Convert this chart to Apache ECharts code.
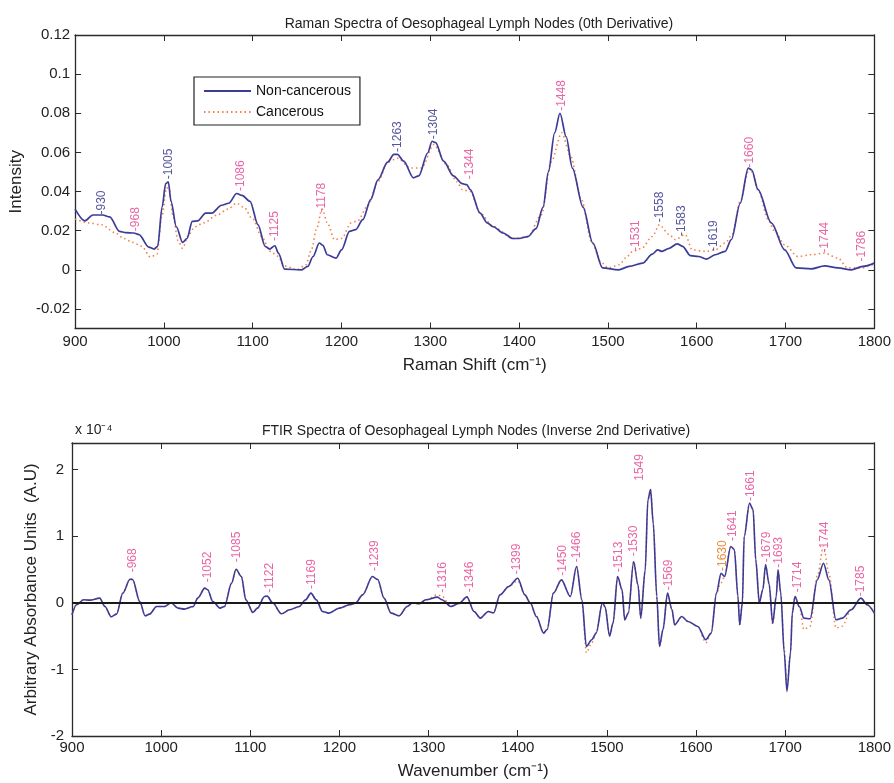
<!DOCTYPE html>
<html>
<head>
<meta charset="utf-8">
<script src="https://cdn.jsdelivr.net/npm/echarts@6/dist/echarts.min.js"></script>
<style>
  html, body { margin: 0; padding: 0; background: #fff; }
  #chart { width: 894px; height: 783px; }
</style>
</head>
<body>
<div id="chart"></div>
<script>
// Raman (0th derivative)
const ramanNonX = [900, 911, 920, 931, 939, 950, 957, 966, 972, 983, 989, 993, 998, 1002, 1005, 1008, 1014, 1021, 1026, 1032, 1038, 1047, 1054, 1065, 1073, 1082, 1088, 1097, 1106, 1114, 1119, 1125, 1129, 1136, 1155, 1162, 1168, 1175, 1179, 1184, 1194, 1200, 1209, 1216, 1224, 1233, 1241, 1252, 1259, 1263, 1270, 1281, 1287, 1297, 1302, 1306, 1315, 1326, 1336, 1341, 1345, 1356, 1364, 1371, 1382, 1393, 1400, 1410, 1419, 1427, 1433, 1440, 1446, 1453, 1460, 1472, 1483, 1494, 1512, 1524, 1539, 1550, 1556, 1561, 1569, 1578, 1584, 1593, 1602, 1611, 1621, 1632, 1639, 1649, 1658, 1662, 1669, 1684, 1699, 1712, 1729, 1744, 1759, 1774, 1787, 1800];
const ramanNonY = [0.031, 0.025, 0.028, 0.028, 0.027, 0.0196, 0.019, 0.0188, 0.018, 0.0116, 0.0106, 0.012, 0.032, 0.044, 0.045, 0.035, 0.022, 0.014, 0.016, 0.0247, 0.025, 0.029, 0.029, 0.033, 0.034, 0.039, 0.038, 0.035, 0.023, 0.012, 0.0106, 0.0123, 0.0085, 0.0003, 0, 0.0017, 0.0068, 0.0137, 0.0125, 0.0077, 0.006, 0.0102, 0.0196, 0.0205, 0.0256, 0.036, 0.046, 0.055, 0.059, 0.059, 0.0555, 0.047, 0.048, 0.0597, 0.0657, 0.065, 0.0555, 0.048, 0.044, 0.0435, 0.041, 0.029, 0.024, 0.022, 0.0188, 0.016, 0.016, 0.017, 0.021, 0.032, 0.05, 0.07, 0.08, 0.068, 0.052, 0.032, 0.0137, 0.001, 0, 0.0017, 0.0034, 0.008, 0.0102, 0.0094, 0.011, 0.0133, 0.012, 0.0072, 0.0068, 0.0055, 0.0077, 0.0094, 0.0154, 0.034, 0.052, 0.051, 0.041, 0.024, 0.0102, 0.001, 0.0005, 0.002, 0.001, 0, 0.0017, 0.0034];
const ramanCanX = [900, 915, 930, 945, 955, 965, 975, 985, 992, 998, 1003, 1006, 1010, 1016, 1021, 1028, 1035, 1045, 1060, 1072, 1082, 1090, 1100, 1110, 1120, 1128, 1136, 1150, 1160, 1166, 1172, 1178, 1185, 1192, 1200, 1211, 1218, 1230, 1241, 1252, 1263, 1278, 1290, 1304, 1318, 1330, 1336, 1345, 1356, 1371, 1393, 1410, 1425, 1436, 1448, 1458, 1470, 1482, 1492, 1500, 1513, 1520, 1528, 1538, 1550, 1558, 1569, 1576, 1587, 1595, 1610, 1621, 1632, 1640, 1649, 1658, 1662, 1670, 1680, 1688, 1699, 1714, 1729, 1744, 1759, 1770, 1785, 1800];
const ramanCanY = [0.026, 0.024, 0.023, 0.019, 0.016, 0.014, 0.012, 0.0065, 0.008, 0.028, 0.042, 0.041, 0.028, 0.015, 0.011, 0.018, 0.022, 0.024, 0.028, 0.031, 0.034, 0.032, 0.026, 0.017, 0.0094, 0.007, 0.002, 0, 0.0026, 0.01, 0.021, 0.031, 0.023, 0.0154, 0.016, 0.024, 0.025, 0.033, 0.045, 0.055, 0.057, 0.052, 0.052, 0.064, 0.054, 0.045, 0.041, 0.04, 0.029, 0.022, 0.016, 0.017, 0.028, 0.055, 0.07, 0.058, 0.036, 0.014, 0.004, 0.001, 0.0026, 0.006, 0.0094, 0.011, 0.017, 0.023, 0.018, 0.0154, 0.018, 0.0102, 0.0094, 0.0102, 0.0137, 0.018, 0.035, 0.05, 0.05, 0.04, 0.026, 0.0196, 0.0128, 0.0068, 0.0077, 0.0085, 0.006, 0.001, 0.001, 0.003];
const ramanBluePeaks = [930, 1005, 1263, 1304, 1558, 1583, 1619];
const ramanBlueAt = [0.028, 0.046, 0.06, 0.0665, 0.024, 0.017, 0.0094];
const ramanPinkPeaks = [968, 1086, 1125, 1178, 1344, 1448, 1531, 1660, 1744, 1786];
const ramanPinkAt = [0.0195, 0.04, 0.0145, 0.029, 0.046, 0.081, 0.0094, 0.052, 0.0085, 0.004];

// FTIR (inverse 2nd derivative, x 10^-4)
const ftirX = [900, 905, 913, 920, 931, 937, 944, 950, 957, 965, 968, 976, 982, 987, 995, 1004, 1011, 1019, 1026, 1036, 1041, 1049, 1052, 1058, 1066, 1071, 1079, 1084, 1090, 1095, 1103, 1108, 1116, 1119, 1125, 1135, 1144, 1155, 1162, 1168, 1174, 1181, 1188, 1200, 1211, 1218, 1226, 1237, 1243, 1250, 1258, 1267, 1276, 1282, 1289, 1297, 1310, 1315, 1325, 1334, 1343, 1351, 1358, 1367, 1373, 1380, 1390, 1400, 1408, 1414, 1421, 1429, 1433, 1440, 1449, 1459, 1466, 1472, 1477, 1483, 1488, 1495, 1498, 1503, 1507, 1512, 1517, 1520, 1524, 1530, 1535, 1538, 1543, 1546, 1549, 1552, 1556, 1559, 1563, 1568, 1573, 1576, 1584, 1591, 1602, 1611, 1617, 1623, 1628, 1632, 1639, 1643, 1647, 1649, 1652, 1654, 1660, 1664, 1667, 1671, 1675, 1678, 1682, 1686, 1690, 1692, 1695, 1699, 1702, 1706, 1708, 1711, 1716, 1721, 1728, 1736, 1743, 1749, 1757, 1764, 1774, 1785, 1792, 1800];
const ftirNon = [-0.18, -0.03, 0.045, 0.04, 0.07, -0.055, -0.21, -0.17, 0.145, 0.355, 0.35, 0.02, -0.195, -0.17, -0.055, -0.055, 0, -0.08, -0.095, -0.055, 0.07, 0.22, 0.2, 0.02, -0.08, -0.055, 0.295, 0.505, 0.395, 0.045, -0.145, -0.08, 0.095, 0.1, 0, -0.165, -0.105, -0.055, 0.045, 0.145, 0.045, -0.13, -0.155, -0.08, -0.03, -0.005, 0.12, 0.395, 0.35, 0.07, -0.155, -0.195, -0.055, 0, -0.015, 0.045, 0.085, 0.045, -0.055, -0.01, 0.09, -0.13, -0.23, -0.13, -0.15, 0.12, 0.245, 0.37, 0.12, 0, -0.205, -0.455, -0.4, 0.145, 0.345, 0.095, 0.545, 0.045, -0.655, -0.555, -0.455, 0, -0.06, -0.5, -0.3, 0.395, 0.2, -0.255, -0.155, 0.62, 0.26, -0.23, 0.495, 1.545, 1.7, 1.2, 0.095, -0.655, -0.4, 0.145, -0.1, -0.33, -0.205, -0.28, -0.355, -0.555, -0.455, 0.145, 0.445, 0.395, 0.845, 0.8, 0.095, -0.33, 0, 0.995, 1.495, 1.4, 0.645, 0, 0.2, 0.57, 0.28, -0.305, 0.1, 0.495, 0.15, -0.755, -1.33, -0.75, -0.155, 0.095, -0.06, -0.23, -0.24, 0.345, 0.595, 0.345, -0.255, -0.23, -0.105, 0.07, -0.03, -0.155];
const ftirCan = [-0.18, -0.03, 0.045, 0.04, 0.07, -0.055, -0.21, -0.17, 0.145, 0.355, 0.35, 0.02, -0.195, -0.17, -0.055, -0.055, 0, -0.08, -0.095, -0.055, 0.07, 0.22, 0.2, 0.02, -0.08, -0.055, 0.295, 0.505, 0.395, 0.045, -0.145, -0.08, 0.095, 0.1, 0, -0.165, -0.105, -0.055, 0.045, 0.145, 0.045, -0.13, -0.155, -0.08, -0.03, -0.005, 0.12, 0.395, 0.35, 0.07, -0.155, -0.195, -0.055, 0, -0.015, 0.045, 0.12, 0.1, -0.055, -0.01, 0.09, -0.13, -0.23, -0.13, -0.15, 0.12, 0.245, 0.33, 0.12, 0, -0.205, -0.455, -0.4, 0.145, 0.345, 0.095, 0.545, 0.045, -0.75, -0.6, -0.455, 0, -0.06, -0.5, -0.3, 0.395, 0.2, -0.255, -0.155, 0.62, 0.26, -0.23, 0.495, 1.545, 1.7, 1.2, 0.095, -0.655, -0.4, 0.145, -0.1, -0.33, -0.205, -0.28, -0.355, -0.6, -0.455, 0.145, 0.3, 0.395, 0.845, 0.8, 0.095, -0.35, 0, 0.995, 1.495, 1.4, 0.645, 0, 0.2, 0.57, 0.28, -0.33, 0.1, 0.495, 0.15, -0.7, -1.25, -0.75, -0.155, 0.095, -0.06, -0.4, -0.35, 0.4, 0.85, 0.45, -0.38, -0.35, -0.105, 0.07, -0.03, -0.155];
const ftirPeaks = [968, 1052, 1085, 1122, 1169, 1239, 1316, 1346, 1399, 1450, 1466, 1513, 1530, 1569, 1641, 1661, 1679, 1693, 1714, 1744, 1785];
const ftirPeakAt = [0.45, 0.3, 0.6, 0.145, 0.2, 0.47, 0.145, 0.15, 0.42, 0.4, 0.6, 0.45, 0.69, 0.18, 0.92, 1.52, 0.6, 0.52, 0.15, 0.75, 0.09];
const ftirArrowPeaks = [1549];
const ftirArrowAt = [1.72];
const ftirOrangePeaks = [1630];
const ftirOrangeAt = [0.47];

const ramanYTicks = [-0.02, 0, 0.02, 0.04, 0.06, 0.08, 0.1, 0.12];
const ftirYTicks = [-2, -1, 0, 1, 2];

const FONT = "'Liberation Sans', Arial, sans-serif";
const NAVY = '#3b3b98';
const ORANGE = '#f08448';
const PINK = '#e33f8c';
const BLUE_LBL = '#2c2c86';

const zip = (xs, ys) => xs.map((x, i) => [x, ys[i]]);

function peakSeries(name, xs, ys, color, xi, yi, extra) {
  const s = {
    name: name,
    type: 'scatter',
    xAxisIndex: xi,
    yAxisIndex: yi,
    silent: true,
    symbolSize: 1,
    itemStyle: { color: 'rgba(0,0,0,0)' },
    z: 5,
    data: zip(xs, ys),
    label: {
      show: true,
      position: 'top',
      distance: 0,
      rotate: 90,
      align: 'left',
      verticalAlign: 'middle',
      color: color,
      fontSize: 12,
      fontFamily: FONT,
      formatter: p => '-' + p.value[0]
    }
  };
  if (extra) Object.assign(s.label, extra);
  return s;
}

function xAxes(gridIndex, nameText, nameGap, labelMargin) {
  const axisLine = { onZero: false, lineStyle: { color: '#2a2a2a', width: 1.3 } };
  return [{
    type: 'value', gridIndex: gridIndex, min: 900, max: 1800, interval: 100,
    position: 'bottom',
    name: nameText, nameLocation: 'middle', nameGap: nameGap,
    nameTextStyle: { color: '#222', fontSize: 17, fontFamily: FONT },
    axisLine: axisLine,
    axisTick: { inside: true, length: 6, lineStyle: { color: '#2a2a2a' } },
    axisLabel: { color: '#222', fontSize: 15, fontFamily: FONT, margin: labelMargin, formatter: v => String(v) },
    splitLine: { show: false }
  }, {
    type: 'value', gridIndex: gridIndex, min: 900, max: 1800, interval: 100,
    position: 'top',
    axisLine: axisLine,
    axisTick: { inside: true, length: 6, lineStyle: { color: '#2a2a2a' } },
    axisLabel: { show: false },
    splitLine: { show: false }
  }];
}

function yAxes(gridIndex, min, max, ticks, nameText, nameGap, labelMargin) {
  const axisLine = { show: true, onZero: false, lineStyle: { color: '#2a2a2a', width: 1.3 } };
  return [{
    type: 'value', gridIndex: gridIndex, min: min, max: max,
    position: 'left',
    name: nameText, nameLocation: 'middle', nameGap: nameGap,
    nameTextStyle: { color: '#222', fontSize: 17, fontFamily: FONT },
    axisLine: axisLine,
    axisTick: { show: true, inside: true, length: 6, customValues: ticks, lineStyle: { color: '#2a2a2a' } },
    axisLabel: { color: '#222', fontSize: 15, fontFamily: FONT, margin: labelMargin, customValues: ticks },
    splitLine: { show: false }
  }, {
    type: 'value', gridIndex: gridIndex, min: min, max: max,
    position: 'right',
    axisLine: axisLine,
    axisTick: { show: true, inside: true, length: 6, customValues: ticks, lineStyle: { color: '#2a2a2a' } },
    axisLabel: { show: false },
    splitLine: { show: false }
  }];
}

const chart = echarts.init(document.getElementById('chart'), null, { renderer: 'canvas' });
chart.setOption({
  animation: false,
  backgroundColor: '#ffffff',
  title: [{
    text: 'Raman Spectra of Oesophageal Lymph Nodes (0th Derivative)',
    left: 474, top: 12, textAlign: 'center',
    textStyle: { fontSize: 14, fontWeight: 'normal', color: '#222', fontFamily: FONT }
  }, {
    text: 'FTIR Spectra of Oesophageal Lymph Nodes (Inverse 2nd Derivative)',
    left: 471, top: 419, textAlign: 'center',
    textStyle: { fontSize: 14, fontWeight: 'normal', color: '#222', fontFamily: FONT }
  }, {
    text: 'x 10⁻⁴',
    left: 70, top: 418,
    textStyle: { fontSize: 14, fontWeight: 'normal', color: '#222', fontFamily: FONT }
  }],
  legend: {
    data: ['Non-cancerous', 'Cancerous'],
    orient: 'vertical',
    left: 194, top: 77,
    padding: [7, 9, 6, 9],
    itemWidth: 47, itemHeight: 14, itemGap: 7,
    borderColor: '#222', borderWidth: 1.2,
    backgroundColor: '#fff',
    itemStyle: { opacity: 0 },
    textStyle: { fontSize: 14, color: '#111', fontFamily: FONT }
  },
  grid: [
    { left: 72, right: 17, top: 35, height: 293.5 },
    { left: 72, right: 17, top: 443, height: 293 }
  ],
  xAxis: [...xAxes(0, 'Raman Shift (cm⁻¹)', 28, 6), ...xAxes(1, 'Wavenumber (cm⁻¹)', 27, 4)],
  yAxis: [...yAxes(0, -0.03, 0.12, ramanYTicks, 'Intensity', 46, 5), ...yAxes(1, -2, 2.4, ftirYTicks, 'Arbitrary Absorbance Units  (A.U)', 30, 8)],
  series: [
    {
      name: 'Cancerous', type: 'line', xAxisIndex: 0, yAxisIndex: 0,
      data: zip(ramanCanX, ramanCanY), symbol: 'none', smooth: 0.3, smoothMonotone: 'x',
      lineStyle: { color: ORANGE, width: 1.6, type: [1.5, 3] }, itemStyle: { color: ORANGE }
    },
    {
      name: 'Non-cancerous', type: 'line', xAxisIndex: 0, yAxisIndex: 0,
      data: zip(ramanNonX, ramanNonY), symbol: 'none', smooth: 0.3, smoothMonotone: 'x',
      lineStyle: { color: NAVY, width: 1.7 }, itemStyle: { color: NAVY }
    },
    peakSeries('raman-blue', ramanBluePeaks, ramanBlueAt, BLUE_LBL, 0, 0),
    peakSeries('raman-pink', ramanPinkPeaks, ramanPinkAt, PINK, 0, 0),
    {
      name: 'FTIR Cancerous', type: 'line', xAxisIndex: 2, yAxisIndex: 2,
      data: zip(ftirX, ftirCan), symbol: 'none', smooth: 0.3, smoothMonotone: 'x',
      lineStyle: { color: ORANGE, width: 1.5, type: [1.5, 3] }, itemStyle: { color: ORANGE }
    },
    {
      name: 'FTIR Non-cancerous', type: 'line', xAxisIndex: 2, yAxisIndex: 2,
      data: zip(ftirX, ftirNon), symbol: 'none', smooth: 0.3, smoothMonotone: 'x',
      lineStyle: { color: NAVY, width: 1.6 }, itemStyle: { color: NAVY },
      markLine: {
        silent: true, symbol: 'none', label: { show: false },
        lineStyle: { color: '#1a1a1a', width: 2, type: 'solid' },
        data: [{ yAxis: 0 }]
      }
    },
    peakSeries('ftir-pink', ftirPeaks, ftirPeakAt, PINK, 2, 2),
    peakSeries('ftir-arrow', ftirArrowPeaks, ftirArrowAt, PINK, 2, 2, {
      formatter: p => String(p.value[0]), offset: [7, -11]
    }),
    peakSeries('ftir-orange', ftirOrangePeaks, ftirOrangeAt, '#e8700c', 2, 2)
  ]
});
</script>
</body>
</html>
